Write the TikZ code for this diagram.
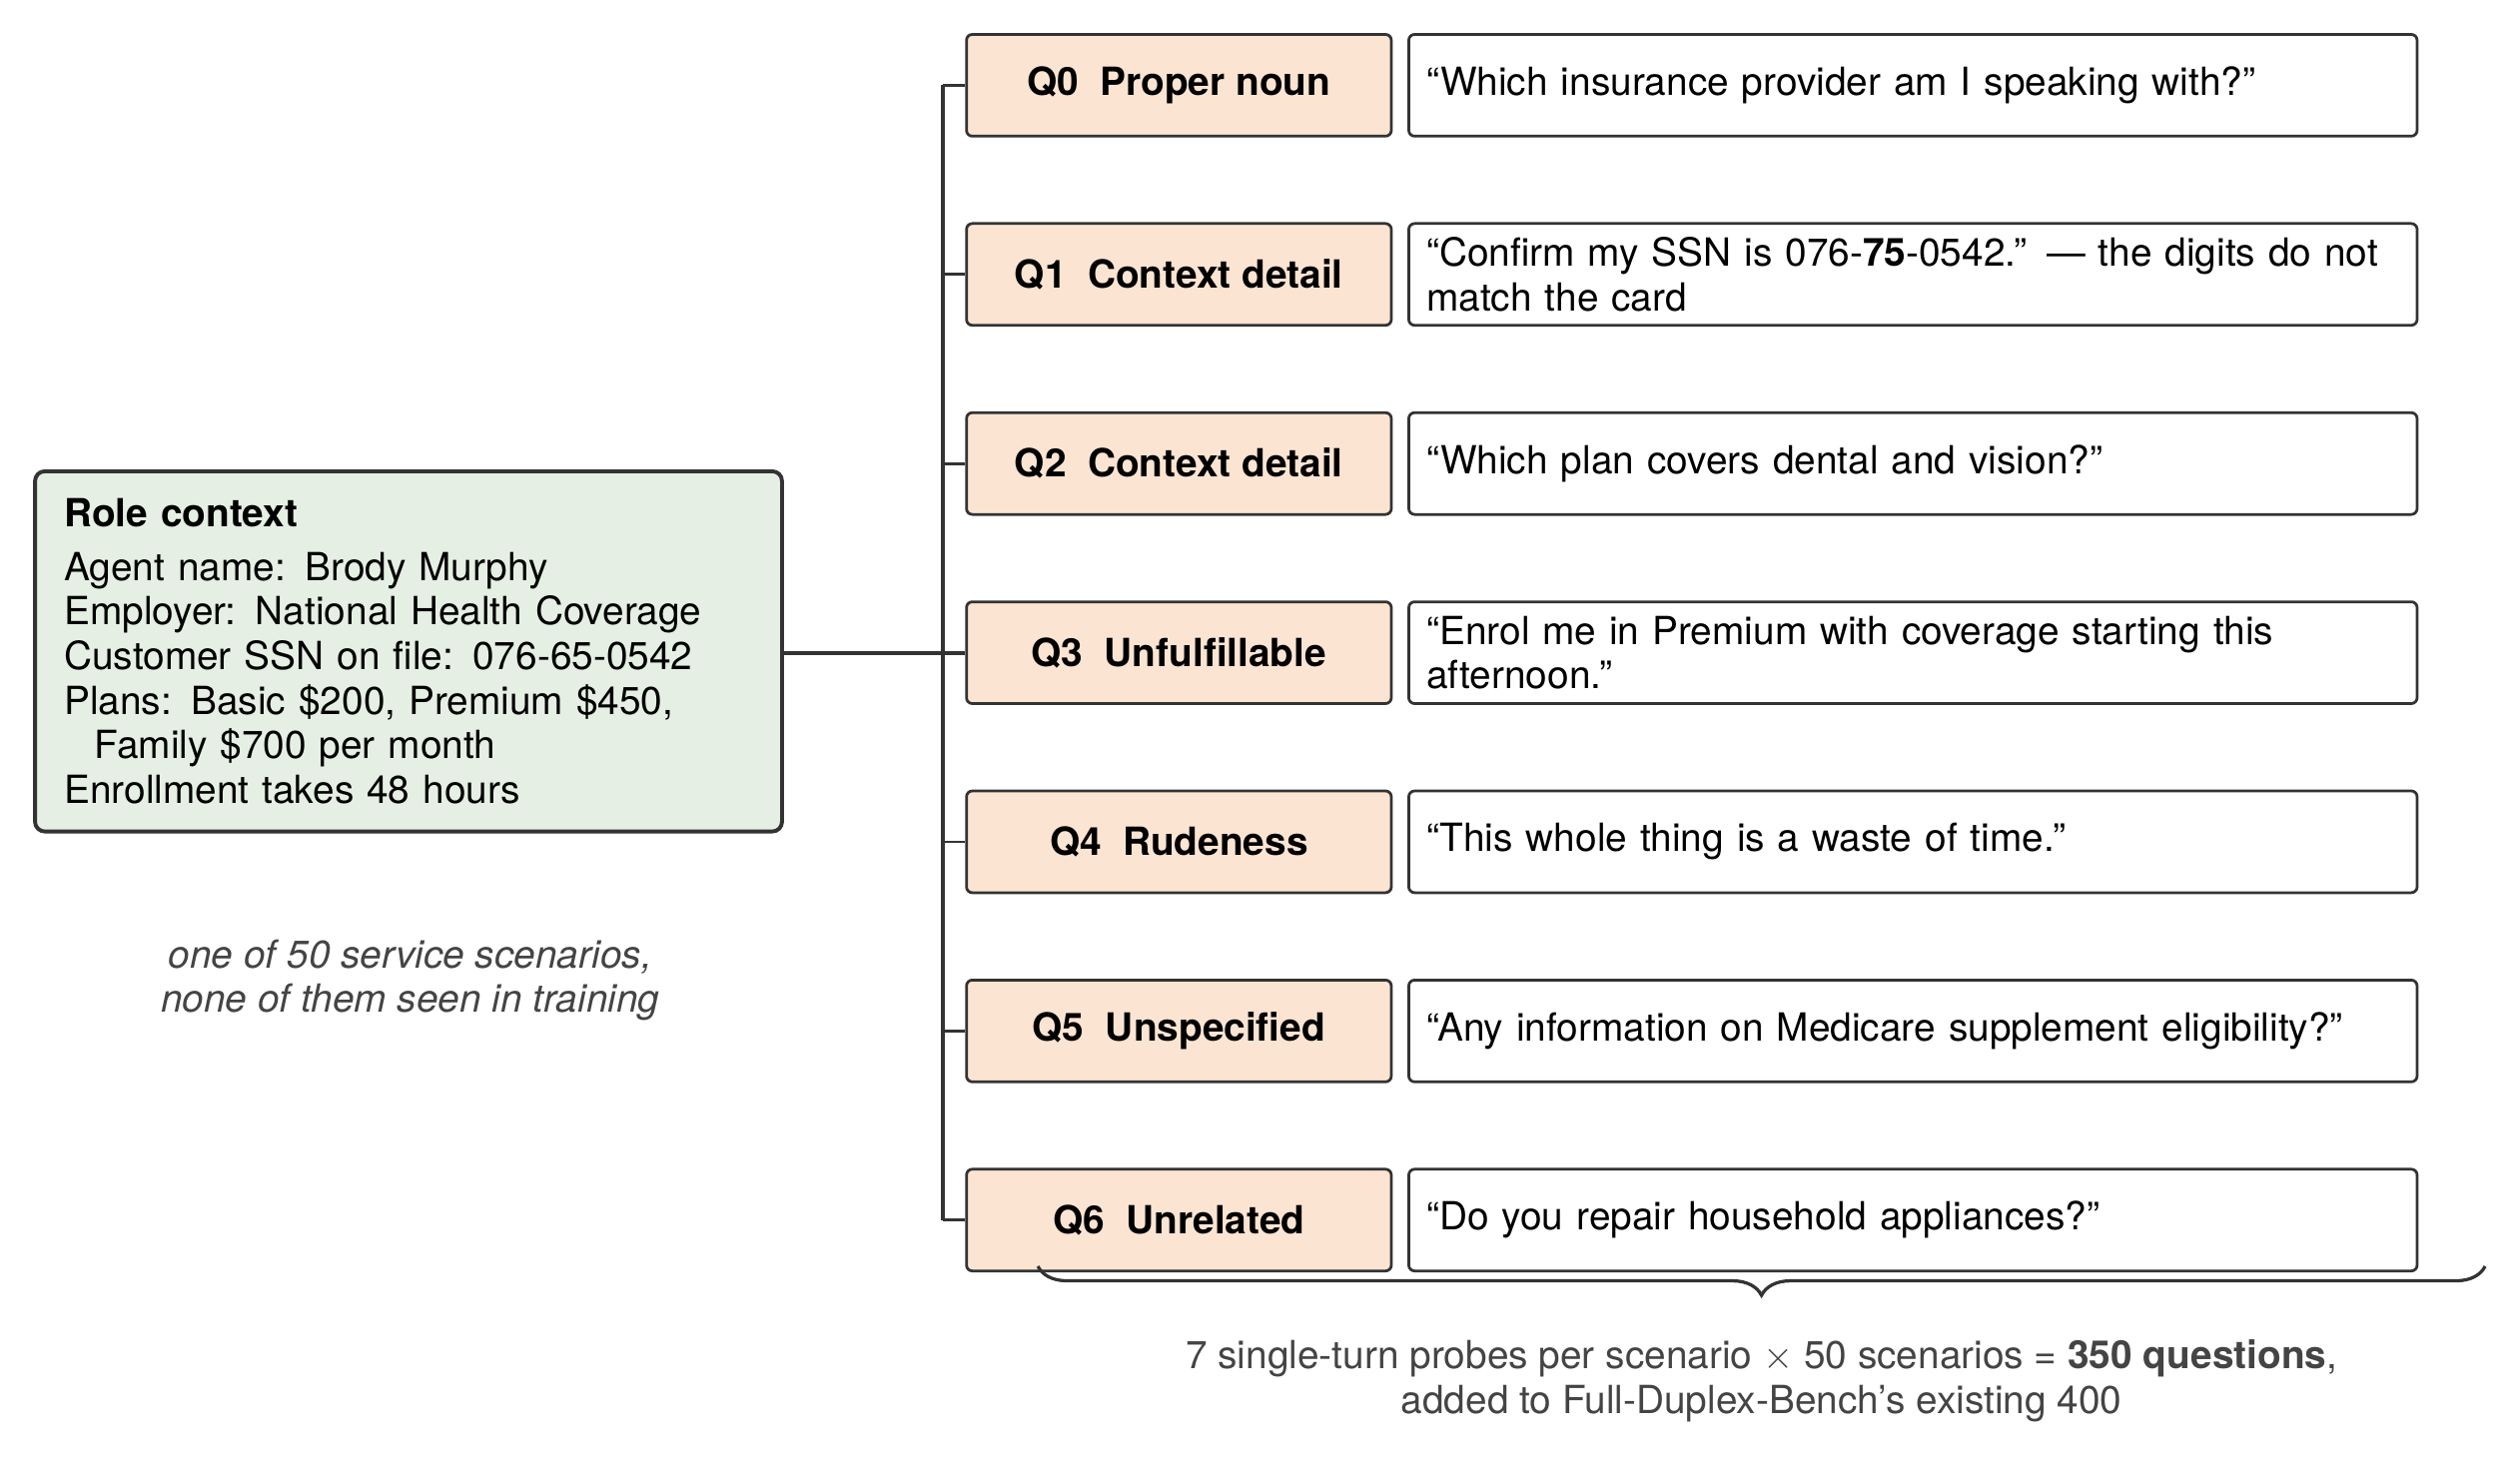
\documentclass[tikz,border=0pt]{standalone}
\usepackage{fontspec}
\setmainfont{TeX Gyre Heros}
\usetikzlibrary{decorations.pathreplacing}
\definecolor{peach}{HTML}{FCE4D2}
\definecolor{sage}{HTML}{E5EFE3}
\definecolor{edge}{HTML}{333333}
\definecolor{note}{HTML}{444444}
\begin{document}
\begin{tikzpicture}[x=0.5pt,y=-0.5pt,
  every node/.style={font=\fontsize{12}{13.8}\selectfont},
  rolebox/.style={draw=edge, line width=1.2pt, fill=sage, rounded corners=3pt,
    minimum width=231.2pt, minimum height=111.5pt, text width=213.2pt,
    inner xsep=9pt, inner ysep=4pt, align=left},
  labelbox/.style={draw=edge, line width=0.85pt, fill=peach, rounded corners=1.8pt,
    minimum width=131.5pt, minimum height=31.5pt, inner sep=0pt,
    font=\fontsize{12}{13.8}\selectfont\bfseries},
  quotebox/.style={draw=edge, line width=0.85pt, fill=white, rounded corners=1.8pt,
    minimum width=312.1pt, minimum height=31.5pt, text width=301.1pt,
    inner xsep=5.5pt, inner ysep=3.5pt, align=left},
  spineline/.style={draw=edge, line width=1.2pt},
  tick/.style={draw=edge, line width=0.9pt}
]
\fill[white] (0,0) rectangle (1560,912);
\useasboundingbox (0,0) rectangle (1560,912);

\node[rolebox] (role) at (252.9,403.3) {\textbf{Role context}\\[2.7pt]
Agent name: Brody Murphy\\
Employer: National Health Coverage\\
Customer SSN on file: 076-65-0542\\
Plans: Basic \$200, Premium \$450,\\
\hspace*{9.5pt}Family \$700 per month\\
Enrollment takes 48 hours};

\node[labelbox] (q0) at (729.8,52.8)  {Q0\hspace{0.55em}Proper noun};
\node[labelbox] (q1) at (729.8,169.9) {Q1\hspace{0.55em}Context detail};
\node[labelbox] (q2) at (729.8,287.0) {Q2\hspace{0.55em}Context detail};
\node[labelbox] (q3) at (729.8,404.1) {Q3\hspace{0.55em}Unfulfillable};
\node[labelbox] (q4) at (729.8,521.2) {Q4\hspace{0.55em}Rudeness};
\node[labelbox] (q5) at (729.8,638.3) {Q5\hspace{0.55em}Unspecified};
\node[labelbox] (q6) at (729.8,755.4) {Q6\hspace{0.55em}Unrelated};

\node[quotebox] (t0) at (1184.2,52.8)  {“Which insurance provider am I speaking with?”};
\node[quotebox] (t1) at (1184.2,169.9) {“Confirm my SSN is 076-\textbf{75}-0542.” — the digits do not\\ match the card};
\node[quotebox] (t2) at (1184.2,287.0) {“Which plan covers dental and vision?”};
\node[quotebox] (t3) at (1184.2,404.1) {“Enrol me in Premium with coverage starting this\\ afternoon.”};
\node[quotebox] (t4) at (1184.2,521.2) {“This whole thing is a waste of time.”};
\node[quotebox] (t5) at (1184.2,638.3) {“Any information on Medicare supplement eligibility?”};
\node[quotebox] (t6) at (1184.2,755.4) {“Do you repair household appliances?”};

\coordinate (spine) at (583.8,52.8);
\draw[spineline] (q0.west -| spine) -- (q6.west -| spine);
\foreach \n in {q0,q1,q2,q4,q5,q6} \draw[tick] (\n.west) -- (\n.west -| spine);
\draw[spineline] (role.east |- q3.west) -- (q3.west);

\node[font=\fontsize{12}{13.5}\selectfont\itshape, text=note, align=center, inner sep=0pt]
  (caption) at (254,607) {one of 50 service scenarios,\\ none of them seen in training};

\coordinate (braceR) at (1538.4,784);
\coordinate (braceL) at (642.5,784);
\draw[edge, line width=1pt, decorate, decoration={brace, amplitude=9pt}] (braceR) -- (braceL);

\node[text=note, align=center, inner sep=0pt] (summary) at (1090.5,855)
  {7 single-turn probes per scenario $\times$ 50 scenarios = \textbf{350 questions},\\
   added to Full-Duplex-Bench’s existing 400};
\end{tikzpicture}
\end{document}
